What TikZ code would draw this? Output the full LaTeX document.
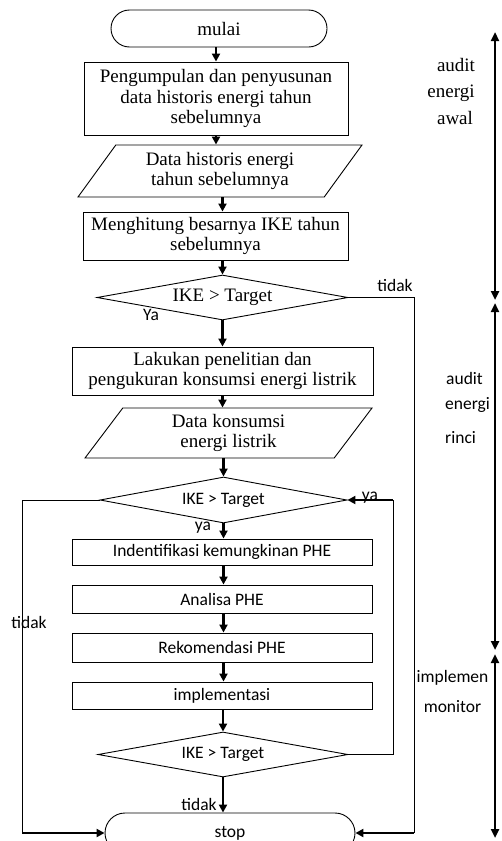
\documentclass[tikz,border=0pt]{standalone}
\usepackage{fontspec}
\setmainfont{Liberation Serif}
\newfontfamily\sansf{Carlito}
\usetikzlibrary{shapes.geometric,shapes.misc,arrows.meta,calc}
\begin{document}
\begin{tikzpicture}[x=1pt,y=-1pt,
  base/.style={draw=black,line width=0.9pt,inner sep=0pt,align=center},
  serif/.style={font=\fontsize{19}{20.5}\selectfont},
  sans/.style={font=\sansf\fontsize{17.5}{20}\selectfont},
  term/.style={base,rounded rectangle},
  proc/.style={base,rectangle},
  io/.style={base,trapezium,trapezium left angle=45,trapezium right angle=135,trapezium stretches body},
  dec/.style={base,diamond,aspect=5},
  arr/.style={line width=2.4pt,-{Triangle[length=8pt,width=8pt]}},
  darr/.style={line width=2.4pt,{Triangle[length=9pt,width=8pt]}-{Triangle[length=9pt,width=8pt]}},
  thinl/.style={line width=1pt},
  lbl/.style={inner sep=0pt},
]
\clip (0,0) rectangle (502,841);

\node[term,serif,minimum width=216pt,minimum height=37pt] (start) at (219,28.5) {mulai};
\node[proc,serif,minimum width=264pt,minimum height=73pt] (box2) at (216,98.5) {Pengumpulan dan penyusunan\\data historis energi tahun\\sebelumnya};
\node[io,serif,minimum width=284pt,minimum height=52pt] (para1) at (220,171) {Data historis energi\\tahun sebelumnya};
\node[proc,serif,minimum width=265pt,minimum height=48pt] (box3) at (215.5,236) {Menghitung besarnya IKE tahun\\sebelumnya};
\node[dec,serif,minimum width=251pt,minimum height=45pt] (dia1) at (222.5,297.5) {IKE > Target};
\node[proc,serif,minimum width=301pt,minimum height=48pt] (box4) at (222.5,371) {Lakukan penelitian dan\\pengukuran konsumsi energi listrik};
\node[io,serif,minimum width=287pt,minimum height=50pt] (para2) at (228.5,433) {Data konsumsi\\energi listrik};
\node[dec,sans,minimum width=247pt,minimum height=46pt] (dia2) at (223.5,500) {IKE > Target};
\node[proc,sans,minimum width=300pt,minimum height=26pt] (box5) at (222,552) {Indentifikasi kemungkinan PHE};
\node[proc,sans,minimum width=300pt,minimum height=28pt] (box6) at (222,599) {Analisa PHE};
\node[proc,sans,minimum width=300pt,minimum height=29pt] (box7) at (222,647.5) {Rekomendasi PHE};
\node[proc,sans,minimum width=300pt,minimum height=27pt] (box8) at (222,695.5) {implementasi};
\node[dec,sans,minimum width=250pt,minimum height=45pt] (dia3) at (223,754.5) {IKE > Target};
\node[term,sans,minimum width=250pt,minimum height=40pt] (stop) at (230,833) {stop};

% main flow
\draw[arr] (box2.north |- start.south) -- (box2.north);
\draw[arr] (box2.south) -- (box2.south |- para1.north);
\draw[arr] (dia1.north |- para1.south) -- (dia1.north |- box3.north);
\draw[arr] (dia1.north |- box3.south) -- (dia1.north);
\draw[arr] (dia1.south) -- (dia1.south |- box4.north);
\draw[arr] (dia1.south |- box4.south) -- (dia1.south |- para2.north);
\draw[arr] (dia2.north |- para2.south) -- (dia2.north);
\draw[arr] (dia2.south) -- (dia2.south |- box5.north);
\draw[arr] (dia2.south |- box5.south) -- (dia2.south |- box6.north);
\draw[arr] (dia2.south |- box6.south) -- (dia2.south |- box7.north);
\draw[arr] (dia2.south |- box7.south) -- (dia2.south |- box8.north);
\draw[arr] (dia3.north |- box8.south) -- (dia3.north);
\draw[arr] (dia3.south) -- (dia3.south |- stop.north);

% loops
\coordinate (r1) at (414,0);
\coordinate (l1) at (22,0);
\coordinate (r2) at (393,0);
\draw[thinl] (dia1.east) -- (dia1.east -| r1) -- (r1 |- stop);
\draw[arr] (r1 |- stop) -- (stop.east);
\draw[thinl] (dia2.west) -- (dia2.west -| l1) -- (l1 |- stop);
\draw[arr] (l1 |- stop) -- (stop.west);
\draw[thinl] (dia3.east) -- (dia3.east -| r2) -- (r2 |- dia2.east);
\draw[arr] (r2 |- dia2.east) -- (dia2.east);

% labels
\node[lbl,sans] (t1) at (395,285) {tidak};
\node[lbl,sans] (y1) at (151,315) {Ya};
\node[lbl,sans] (y2) at (370,498) {ya};
\node[lbl,sans] (y3) at (203,528) {ya};
\node[lbl,sans] (t2) at (29,622) {tidak};
\node[lbl,sans] (t3) at (199,804) {tidak};

% phases
\coordinate (p1) at (495,32);
\coordinate (p2) at (495,300);
\coordinate (p3) at (495,303);
\coordinate (p4) at (495,650);
\coordinate (p5) at (495,654);
\coordinate (p6) at (495,838);
\draw[darr] (p1) -- (p2);
\draw[darr] (p3) -- (p4);
\draw[darr] (p5) -- (p6);

\node[lbl,serif] (s1) at (456,65) {audit};
\node[lbl,serif] (s2) at (451,93) {energi};
\node[lbl,serif] (s3) at (455,118) {awal};
\node[lbl,sans,anchor=west] (s4) at (446,378) {audit};
\node[lbl,sans,anchor=west] (s5) at (445,405) {energi};
\node[lbl,sans,anchor=west] (s6) at (445,438) {rinci};
\node[lbl,sans] (s7) at (452.5,678) {implemen};
\node[lbl,sans] (s8) at (452.5,707) {monitor};
\end{tikzpicture}
\end{document}
